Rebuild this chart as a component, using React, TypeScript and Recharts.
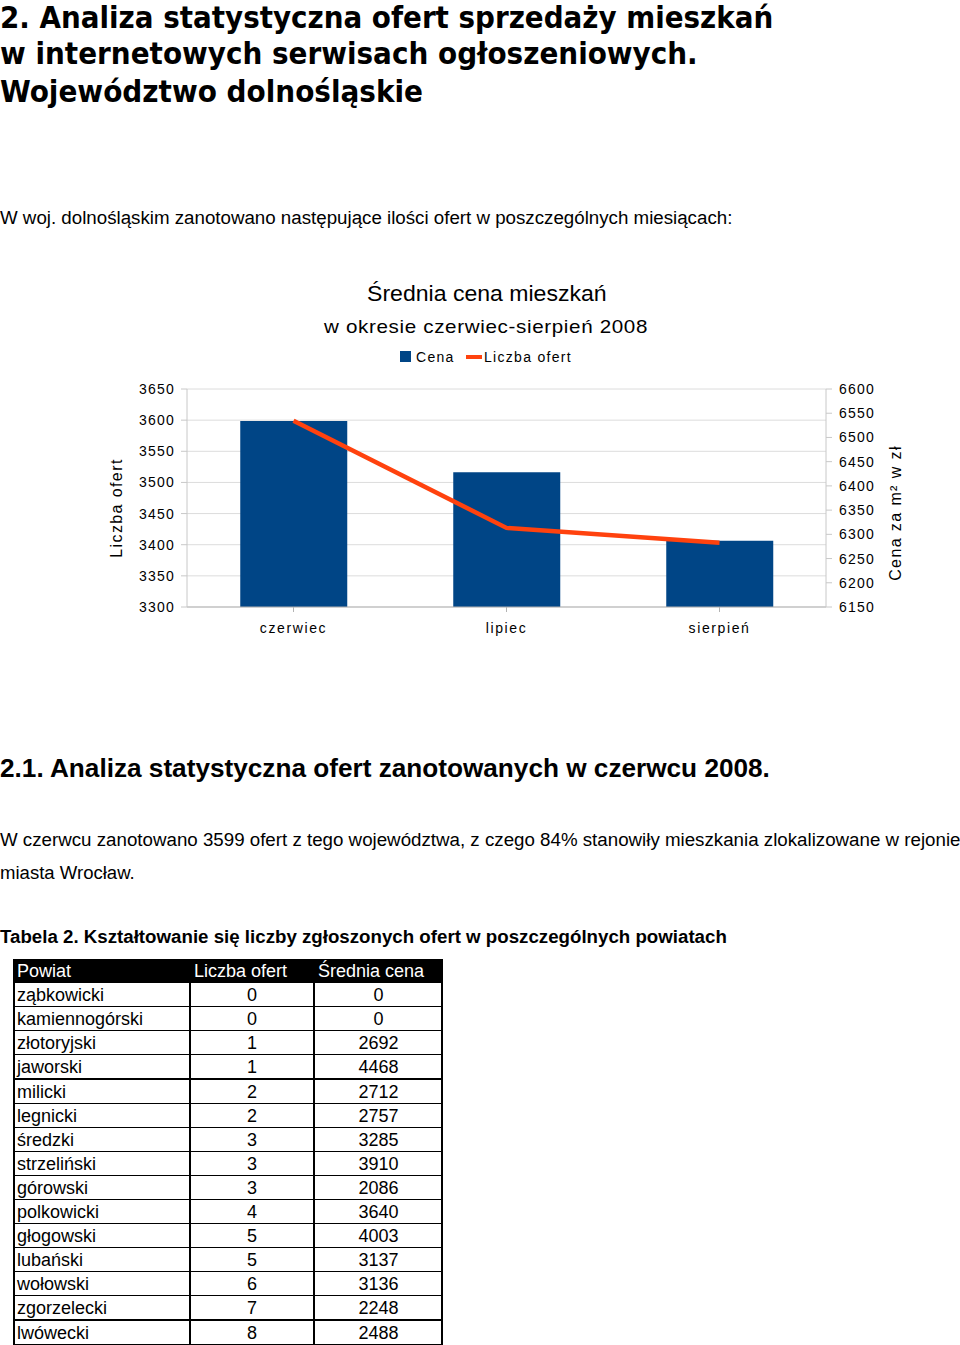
import React, { useLayoutEffect, useRef, useState } from 'react';
import { ComposedChart, Bar, Line, XAxis, YAxis, CartesianGrid, Legend } from 'recharts';

const months = ['czerwiec', 'lipiec', 'sierpień'];
const cena = [6534, 6428, 6287];
const liczbaOfertMies = [3599, 3427, 3403];
const leftTicks = [3300, 3350, 3400, 3450, 3500, 3550, 3600, 3650];
const rightTicks = [6150, 6200, 6250, 6300, 6350, 6400, 6450, 6500, 6550, 6600];

const powiaty = ['ząbkowicki', 'kamiennogórski', 'złotoryjski', 'jaworski', 'milicki', 'legnicki', 'średzki', 'strzeliński', 'górowski', 'polkowicki', 'głogowski', 'lubański', 'wołowski', 'zgorzelecki', 'lwówecki'];
const liczbaOfert = [0, 0, 1, 1, 2, 2, 3, 3, 3, 4, 5, 5, 6, 7, 8];
const srednieCeny = [0, 0, 2692, 4468, 2712, 2757, 3285, 3910, 2086, 3640, 4003, 3137, 3136, 2248, 2488];

const chartData = months.map((m, i) => ({ month: m, cena: cena[i], liczba: liczbaOfertMies[i] }));

const BLUE = '#004586';
const ORANGE = '#ff420e';
const ARIAL = '"Liberation Sans", Arial, sans-serif';

type FitProps = { x: number; cy: number; w: number; size: number; weight?: number | string; family?: string; ls?: number; children: React.ReactNode };

function FitText({ x, cy, w, size, weight = 'normal', family = ARIAL, ls = 0, children }: FitProps) {
  const ref = useRef<HTMLSpanElement>(null);
  const [s, setS] = useState(1);
  useLayoutEffect(() => {
    const measure = () => {
      if (ref.current) {
        const a = ref.current.offsetWidth;
        if (a > 0) setS(w / a);
      }
    };
    measure();
    if ((document as any).fonts && (document as any).fonts.ready) (document as any).fonts.ready.then(measure);
  }, [w]);
  return (
    <span
      ref={ref}
      style={{
        position: 'absolute', left: x, top: cy - size * 0.5, fontSize: size, lineHeight: 1,
        fontFamily: family, fontWeight: weight as any, whiteSpace: 'nowrap', letterSpacing: ls,
        transform: `scaleX(${s})`, transformOrigin: 'left center', color: '#000',
      }}
    >
      {children}
    </span>
  );
}

const tickStyle = { fontSize: 14, fill: '#000', letterSpacing: 1.2, fontFamily: ARIAL };

function LegendContent() {
  return (
    <div style={{ position: 'relative', width: 960, height: 20, fontFamily: ARIAL, fontSize: 14, letterSpacing: 1.3 }}>
      <div style={{ position: 'absolute', left: 400, top: 4, width: 11, height: 11, background: BLUE }} />
      <span style={{ position: 'absolute', left: 416, top: 2, lineHeight: '16px', color: '#000' }}>Cena</span>
      <div style={{ position: 'absolute', left: 466, top: 8, width: 16, height: 4, background: ORANGE }} />
      <span style={{ position: 'absolute', left: 484, top: 2, lineHeight: '16px', color: '#000' }}>Liczba ofert</span>
    </div>
  );
}

function Chart() {
  const top = 280;
  return (
    <div style={{ position: 'absolute', left: 0, top }}>
      <ComposedChart
        width={960}
        height={380}
        data={chartData}
        margin={{ top: 109, right: 54, bottom: 23, left: 127 }}
        barCategoryGap="25%"
      >
        <CartesianGrid vertical={false} stroke="#dcdcdc" yAxisId="left" />
        <XAxis
          dataKey="month"
          height={30}
          tickSize={5}
          tickMargin={11}
          axisLine={{ stroke: '#b3b3b3' }}
          tickLine={{ stroke: '#b3b3b3' }}
          tick={{ ...tickStyle, letterSpacing: 1.6 }}
        />
        <YAxis
          yAxisId="left"
          orientation="left"
          width={60}
          domain={[3300, 3650]}
          ticks={leftTicks}
          tickSize={6}
          tickMargin={6}
          axisLine={{ stroke: '#c8c8c8' }}
          tickLine={{ stroke: '#c8c8c8' }}
          tick={tickStyle}
          label={(p: any) => {
            const vb = p.viewBox || {};
            const cx = vb.x - 11;
            const cy = vb.y + vb.height / 2 + 10;
            return (
              <text x={cx} y={cy} transform={`rotate(-90 ${cx} ${cy})`} textAnchor="middle" dominantBaseline="central"
                style={{ fontSize: 16, letterSpacing: 1.4, fontFamily: ARIAL, fill: '#000' }}>Liczba ofert</text>
            );
          }}
        />
        <YAxis
          yAxisId="right"
          orientation="right"
          width={80}
          domain={[6150, 6600]}
          ticks={rightTicks}
          tickSize={6}
          tickMargin={7}
          axisLine={{ stroke: '#c8c8c8' }}
          tickLine={{ stroke: '#c8c8c8' }}
          tick={tickStyle}
          label={(p: any) => {
            const vb = p.viewBox || {};
            const cx = vb.x + 69;
            const cy = vb.y + vb.height / 2 + 15;
            return (
              <text x={cx} y={cy} transform={`rotate(-90 ${cx} ${cy})`} textAnchor="middle" dominantBaseline="central"
                style={{ fontSize: 16, letterSpacing: 1.4, fontFamily: ARIAL, fill: '#000' }}>Cena za m² w zł</text>
            );
          }}
        />
        <Legend
          verticalAlign="middle"
          align="center"
          layout="horizontal"
          content={() => <LegendContent />}
          wrapperStyle={{ top: 347 - top, left: 0, width: 960, height: 20 }}
        />
        <Bar yAxisId="right" dataKey="cena" name="Cena" fill={BLUE} isAnimationActive={false} />
        <Line yAxisId="left" dataKey="liczba" name="Liczba ofert" stroke={ORANGE} strokeWidth={4.5} dot={false} activeDot={false} isAnimationActive={false} />
      </ComposedChart>
    </div>
  );
}

function Table() {
  const rowH = 24.1;
  const cols = [0, 175, 299, 428];
  const cellText = (i: number): [string, string, string] =>
    i === 0 ? ['Powiat', 'Liczba ofert', 'Średnia cena'] : [powiaty[i - 1], String(liczbaOfert[i - 1]), String(srednieCeny[i - 1])];
  const rows = [];
  for (let i = 0; i <= powiaty.length; i++) {
    const t = cellText(i);
    const header = i === 0;
    rows.push(
      <div key={i} style={{ position: 'absolute', left: 0, top: i * rowH, width: 428, height: rowH, background: header ? '#000' : '#fff' }}>
        {[0, 1, 2].map((c) => (
          <div key={c} style={{
            position: 'absolute', left: cols[c], top: 0, width: cols[c + 1] - cols[c], height: rowH,
            boxSizing: 'border-box', borderLeft: c > 0 ? '2px solid #000' : 'none',
            textAlign: header || c === 0 ? 'left' : 'center', paddingLeft: header ? 3 : (c === 0 ? 3 : 0),
            fontFamily: ARIAL, fontSize: 18, lineHeight: `${rowH}px`, color: header ? '#fff' : '#000', whiteSpace: 'nowrap',
          }}>{t[c]}</div>
        ))}
        <div style={{ position: 'absolute', left: 0, bottom: -1, width: 428, height: 2, background: '#000' }} />
      </div>
    );
  }
  return (
    <div style={{ position: 'absolute', left: 14, top: 959, width: 428, height: rowH * 16 }}>
      {rows}
      <div style={{ position: 'absolute', left: -1, top: 0, width: 2, height: rowH * 16, background: '#000' }} />
      <div style={{ position: 'absolute', left: 427, top: 0, width: 2, height: rowH * 16, background: '#000' }} />
    </div>
  );
}

export default function App() {
  const HEAD = '"DejaVu Sans Condensed", "DejaVu Sans", sans-serif';
  return (
    <div style={{ position: 'absolute', left: 0, top: 0, width: 960, height: 1345, background: '#fff', overflow: 'hidden' }}>
      <FitText x={0} cy={18} w={773} size={30} weight="bold" family={HEAD}>2. Analiza statystyczna ofert sprzedaży mieszkań</FitText>
      <FitText x={0} cy={54} w={698} size={30} weight="bold" family={HEAD}>w internetowych serwisach ogłoszeniowych.</FitText>
      <FitText x={0} cy={92} w={423} size={30} weight="bold" family={HEAD}>Województwo dolnośląskie</FitText>

      <FitText x={0} cy={218} w={732} size={18}>W woj. dolnośląskim zanotowano następujące ilości ofert w poszczególnych miesiącach:</FitText>

      <FitText x={367} cy={294} w={240} size={22}>Średnia cena mieszkań</FitText>
      <FitText x={324} cy={326} w={324} size={19} ls={0.6}>w okresie czerwiec-sierpień 2008</FitText>

      <Chart />

      <FitText x={0} cy={768} w={770} size={26} weight="bold">2.1. Analiza statystyczna ofert zanotowanych w czerwcu 2008.</FitText>
      <FitText x={0} cy={840} w={960} size={18}>W czerwcu zanotowano 3599 ofert z tego województwa, z czego 84% stanowiły mieszkania zlokalizowane w rejonie</FitText>
      <FitText x={0} cy={873} w={135} size={18}>miasta Wrocław.</FitText>
      <FitText x={0} cy={937} w={727} size={18} weight="bold">Tabela 2. Kształtowanie się liczby zgłoszonych ofert w poszczególnych powiatach</FitText>

      <Table />
    </div>
  );
}
